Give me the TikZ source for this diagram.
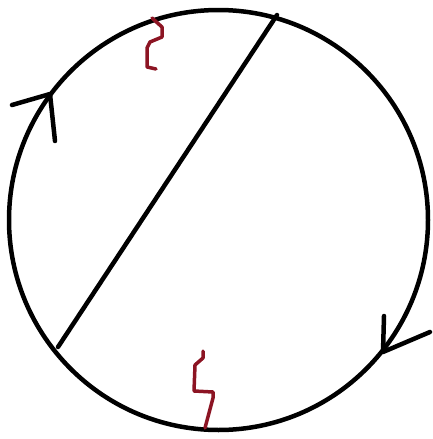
\documentclass[tikz,border=0pt]{standalone}
\usepackage{xcolor}
\usetikzlibrary{calc}
\definecolor{squigred}{RGB}{140,20,35}

\begin{document}
\begin{tikzpicture}[
    x=1pt, y=-1pt,
    stroke/.style={draw=black, line width=4.5pt, line cap=round, line join=round},
    squig/.style={draw=squigred, line width=3.5pt, line cap=round, line join=round}
]
\useasboundingbox (0,0) rectangle (433,439);

% Circle
\coordinate (centre) at (218.5,220);
\draw[stroke] (centre) ellipse [x radius=209.5pt, y radius=210pt];

% Chord
\coordinate (chordtop) at (277,15);
\coordinate (chordbot) at (58,347);
\draw[stroke] (chordtop) -- (chordbot);

% Arrowheads
\coordinate (lefttip) at (50,94);
\draw[stroke] (12,105) -- (lefttip) -- (55,141);
\coordinate (righttip) at (383,352);
\draw[stroke] (384,316) -- (righttip) -- (430,332);

% Squiggles
\draw[squig] (152,18) -- (162,27) -- (162,37) -- (150,42) -- (147,48) -- (147,67) -- (156,69);
\draw[squig] (203,351) -- (203,358) -- (195,365) -- (194,391) -- (213,392) -- (213,398) -- (205,428);

\end{tikzpicture}
\end{document}
